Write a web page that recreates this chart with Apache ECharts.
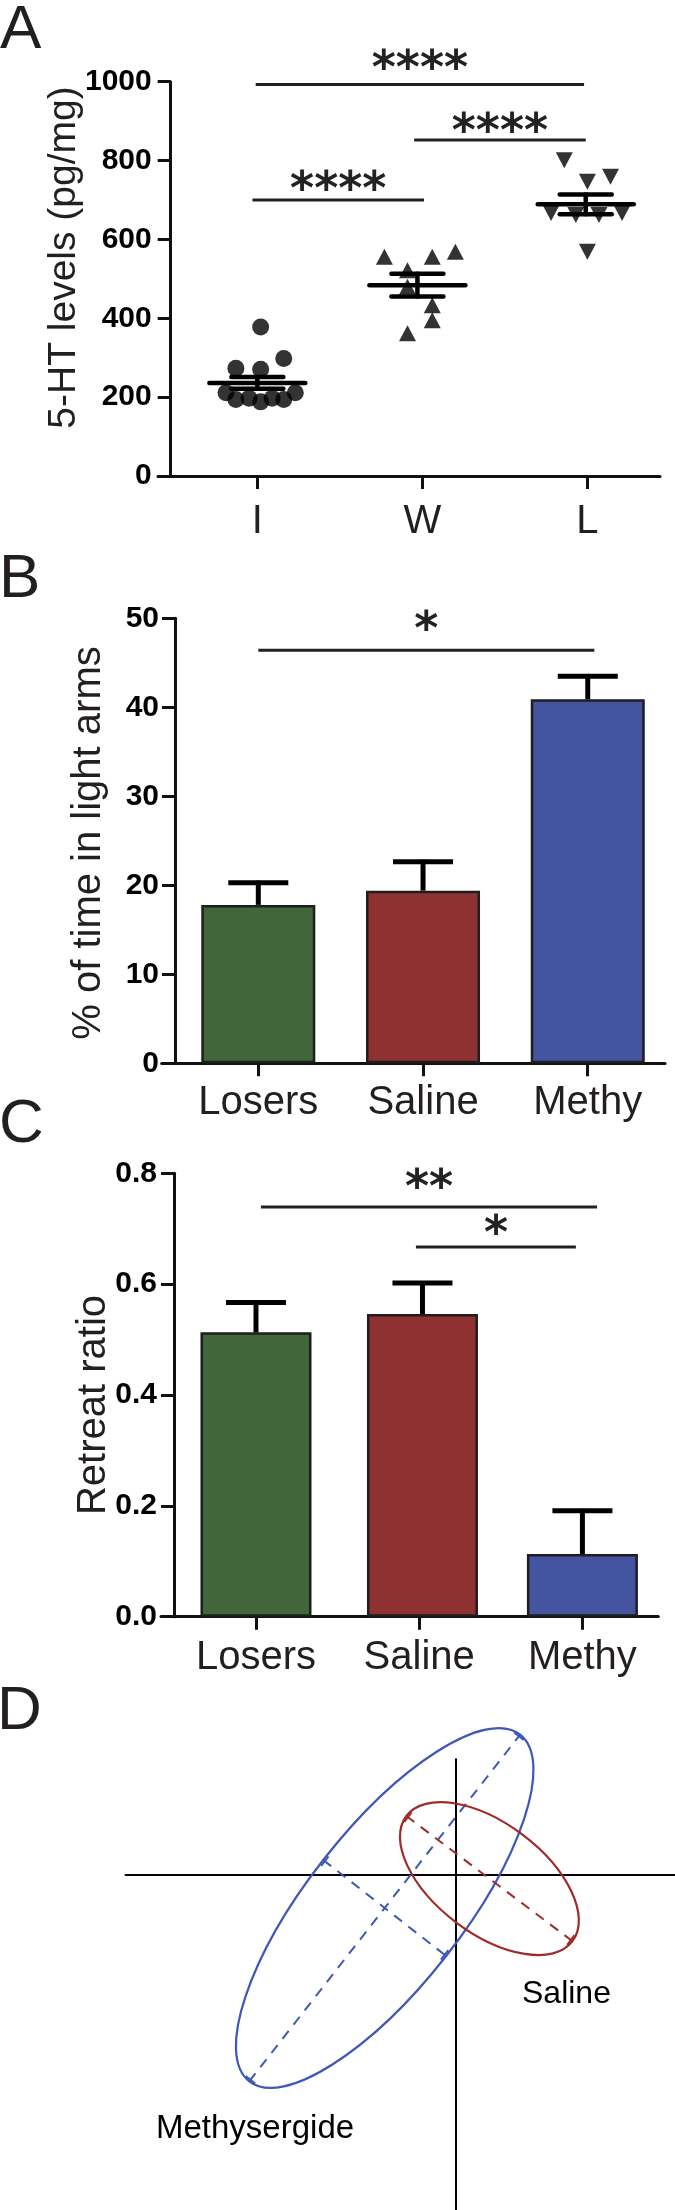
<!DOCTYPE html>
<html><head><meta charset="utf-8">
<script src="https://cdn.jsdelivr.net/npm/echarts@6/dist/echarts.min.js"></script>
<style>html,body{margin:0;padding:0;background:#fff}#c{width:675px;height:2210px}</style>
</head><body><div id="c"></div>
<script>
// ---------- Panel A : 5-HT levels ----------
const catsA = ['I', 'W', 'L'];
const groupI = [[1.02,378],[1.16,298],[0.87,273],[1.02,271],[0.81,211],[0.87,194],[0.95,197],[1.02,188],[1.09,197],[1.16,194],[1.23,211]];
const groupW = [[1.77,556],[2.06,556],[2.20,569],[1.91,522],[1.91,480],[2.06,433],[2.06,395],[1.91,362]];
const groupL = [[2.86,801],[3.00,746],[3.14,759],[2.78,667],[2.93,662],[3.07,662],[3.21,667],[3.00,569]];
const meanXA = [1.0, 1.97, 2.99];
const meansA = [236, 484, 689];
const semsA = [15, 29, 25];
const sigLinesA = [[0.99, 2.98, 993], [1.95, 2.99, 852], [0.97, 2.01, 700]];
const sigTextA = ['****', '****', '****'];

// ---------- Panel B : % time in light arms ----------
const catsB = ['Losers', 'Saline', 'Methy'];
const barXB = [1, 2, 3];
const meansB = [17.8, 19.4, 40.9];
const semsB = [2.5, 3.25, 2.6];
const sigLinesB = [[1.0, 3.04, 46.4]];
const sigTextB = ['*'];

// ---------- Panel C : retreat ratio ----------
const catsC = ['Losers', 'Saline', 'Methy'];
const barXC = [1, 2.02, 3];
const meansC = [0.513, 0.546, 0.113];
const semsC = [0.054, 0.056, 0.078];
const sigLinesC = [[1.03, 3.09, 0.739], [1.98, 2.96, 0.667]];
const sigTextC = ['**', '*'];

// ---------- Panel D : ellipses ----------
const ellipseNames = ['Methysergide', 'Saline'];
const ellipseCenters = [[-7.1, -3.37], [3.37, -0.43]];
const ellipseSemiAxes = [[22.0, 7.8], [10.4, 5.5]];
const ellipseAngles = [52, -37];

const barColors = ['#41663a', '#8f3131', '#4554a0'];
const ellColors = ['#3f57b8', '#a12b2b'];
const ellShowMinor = [true, false];
const AX = '#111';
const TXT = '#231f20';
const SANS = "'Liberation Sans', Arial, Helvetica, sans-serif";
const STAR = "'DejaVu Sans', sans-serif";

const chart = echarts.init(document.getElementById('c'), null, {renderer: 'canvas'});

function xAxisCat(gi, min, max, cats, margin) {
  return {
    type: 'value', gridIndex: gi, min: min, max: max,
    axisLine: {show: true, onZero: false, lineStyle: {color: AX, width: 3}},
    axisTick: {show: true, customValues: [1, 2, 3], length: 13, lineStyle: {color: AX, width: 3}},
    axisLabel: {show: true, customValues: [1, 2, 3], margin: margin,
      formatter: v => cats[Math.round(v) - 1] || '',
      fontFamily: SANS, fontSize: 40, color: TXT},
    splitLine: {show: false}
  };
}
function yAxisVal(gi, max, interval, fmt, offset, margin) {
  return {
    type: 'value', gridIndex: gi, min: 0, max: max, interval: interval, offset: offset,
    axisLine: {show: true, onZero: false, lineStyle: {color: AX, width: 3}},
    axisTick: {show: true, length: 13, lineStyle: {color: AX, width: 3}},
    axisLabel: {show: true, margin: margin, formatter: fmt,
      fontFamily: SANS, fontWeight: 'bold', fontSize: 30, color: '#000'},
    splitLine: {show: false}
  };
}

function sigSeries(xi, lines, texts, glyphOffsets) {
  return {
    type: 'custom', xAxisIndex: xi, yAxisIndex: xi, z: 5,
    data: lines,
    renderItem: (params, api) => {
      const a = api.coord([api.value(0), api.value(2)]);
      const b = api.coord([api.value(1), api.value(2)]);
      return {type: 'group', children: [
        {type: 'line', shape: {x1: a[0], y1: a[1], x2: b[0], y2: b[1]},
          style: {stroke: '#222', lineWidth: 3}},
        {type: 'text', x: (a[0] + b[0]) / 2, y: a[1] - glyphOffsets[params.dataIndex],
          style: {text: texts[params.dataIndex], fill: '#222', align: 'center', verticalAlign: 'middle',
            font: 'bold 46px ' + STAR}}
      ]};
    }
  };
}

function errSeries(xi, xs, means, sems) {
  return {
    type: 'custom', xAxisIndex: xi, yAxisIndex: xi, z: 4,
    data: means.map((m, i) => [xs[i], m, sems[i]]),
    renderItem: (params, api) => {
      const x = api.value(0), m = api.value(1), s = api.value(2);
      const p0 = api.coord([x, m]);
      const p1 = api.coord([x, m + s]);
      const st = {stroke: '#000', lineWidth: 5};
      return {type: 'group', children: [
        {type: 'line', shape: {x1: p0[0], y1: p0[1], x2: p1[0], y2: p1[1] - 2}, style: st},
        {type: 'line', shape: {x1: p1[0] - 30, y1: p1[1], x2: p1[0] + 30, y2: p1[1]}, style: st}
      ]};
    }
  };
}

function barSeries(xi, xs, means, width) {
  return {
    type: 'bar', xAxisIndex: xi, yAxisIndex: xi, barWidth: width, z: 3,
    data: means.map((m, i) => ({value: [xs[i], m], itemStyle: {color: barColors[i]}})),
    itemStyle: {borderColor: '#1e1e1e', borderWidth: 2.5}
  };
}

const option = {
  animation: false,
  backgroundColor: '#fff',
  grid: [
    {left: 158, top: 81.7, width: 502, height: 394.3},
    {left: 161.7, top: 618.3, width: 503.3, height: 445},
    {left: 161, top: 1173.3, width: 497.3, height: 443.4},
    {left: 125.5, top: 1759.3, width: 549.5, height: 450.7}
  ],
  xAxis: [
    xAxisCat(0, 0.398, 3.44, catsA, 26),
    xAxisCat(1, 0.4135, 3.469, catsB, 20),
    xAxisCat(2, 0.418, 3.465, catsC, 21),
    {type: 'value', gridIndex: 3, min: -33.02, max: 21.93,
      axisLine: {show: true, onZero: true, lineStyle: {color: '#000', width: 2}},
      axisTick: {show: false}, axisLabel: {show: false}, splitLine: {show: false}}
  ],
  yAxis: [
    yAxisVal(0, 1000, 200, v => String(v), -12.7, 19),
    yAxisVal(1, 50, 10, v => String(v), -13.3, 16),
    yAxisVal(2, 0.8, 0.2, v => v.toFixed(1), -13, 17),
    {type: 'value', gridIndex: 3, min: -33.57, max: 11.5,
      axisLine: {show: true, onZero: true, lineStyle: {color: '#000', width: 2}},
      axisTick: {show: false}, axisLabel: {show: false}, splitLine: {show: false}}
  ],
  series: [
    {type: 'scatter', xAxisIndex: 0, yAxisIndex: 0, symbol: 'circle', symbolSize: 17,
      itemStyle: {color: '#000'}, data: groupI, z: 3},
    {type: 'scatter', xAxisIndex: 0, yAxisIndex: 0, symbol: 'triangle', symbolSize: [17, 16],
      itemStyle: {color: '#000'}, data: groupW, z: 3},
    {type: 'scatter', xAxisIndex: 0, yAxisIndex: 0, symbol: 'triangle', symbolSize: [17, 16], symbolRotate: 180,
      itemStyle: {color: '#000'}, data: groupL, z: 3},
    {type: 'custom', xAxisIndex: 0, yAxisIndex: 0, z: 4,
      data: meansA.map((m, i) => [meanXA[i], m, semsA[i]]),
      renderItem: (params, api) => {
        const x = api.value(0), m = api.value(1), s = api.value(2);
        const pm = api.coord([x, m]);
        const pu = api.coord([x, m + s]);
        const pl = api.coord([x, m - s]);
        const st = {stroke: '#000', lineWidth: 4.5, lineCap: 'round'};
        return {type: 'group', children: [
          {type: 'line', shape: {x1: pm[0] - 48, y1: pm[1], x2: pm[0] + 48, y2: pm[1]}, style: st},
          {type: 'line', shape: {x1: pu[0] - 26, y1: pu[1], x2: pu[0] + 26, y2: pu[1]}, style: st},
          {type: 'line', shape: {x1: pl[0] - 26, y1: pl[1], x2: pl[0] + 26, y2: pl[1]}, style: st},
          {type: 'line', shape: {x1: pu[0], y1: pu[1], x2: pl[0], y2: pl[1]}, style: st}
        ]};
      }},
    sigSeries(0, sigLinesA, sigTextA, [13, 6, 8]),

    barSeries(1, barXB, meansB, 114),
    errSeries(1, barXB, meansB, semsB),
    sigSeries(1, sigLinesB, sigTextB, [18]),

    barSeries(2, barXC, meansC, 111),
    errSeries(2, barXC, meansC, semsC),
    sigSeries(2, sigLinesC, sigTextC, [17, 11]),

    {type: 'custom', xAxisIndex: 3, yAxisIndex: 3, z: 3,
      data: ellipseCenters.map((c, i) => [c[0], c[1], ellipseSemiAxes[i][0], ellipseSemiAxes[i][1], ellipseAngles[i]]),
      renderItem: (params, api) => {
        const c = api.coord([api.value(0), api.value(1)]);
        const rx = api.size([api.value(2), 0])[0];
        const ry = api.size([0, api.value(3)])[1];
        const rot = api.value(4) * Math.PI / 180;
        const col = ellColors[params.dataIndex];
        const dash = {stroke: col, lineWidth: 2, lineDash: [10, 8], fill: null};
        const solid = {stroke: col, lineWidth: 2, fill: null};
        const kids = [
          {type: 'ellipse', shape: {cx: 0, cy: 0, rx: rx, ry: ry}, style: {stroke: col, lineWidth: 2.2, fill: null}},
          {type: 'line', shape: {x1: -rx, y1: 0, x2: rx, y2: 0}, style: dash},
          {type: 'line', shape: {x1: -rx + 2, y1: -6, x2: -rx + 2, y2: 6}, style: solid},
          {type: 'line', shape: {x1: rx - 2, y1: -6, x2: rx - 2, y2: 6}, style: solid}
        ];
        if (ellShowMinor[params.dataIndex]) {
          kids.push({type: 'line', shape: {x1: 0, y1: -ry, x2: 0, y2: ry}, style: dash});
          kids.push({type: 'line', shape: {x1: -6, y1: -ry + 2, x2: 6, y2: -ry + 2}, style: solid});
          kids.push({type: 'line', shape: {x1: -6, y1: ry - 2, x2: 6, y2: ry - 2}, style: solid});
        }
        return {type: 'group', x: c[0], y: c[1], rotation: rot, children: kids};
      }}
  ],
  graphic: [
    {type: 'text', x: 0, y: 30.5, style: {text: 'A', font: '62px ' + SANS, fill: TXT, align: 'left', verticalAlign: 'middle'}},
    {type: 'text', x: -1, y: 579.5, style: {text: 'B', font: '62px ' + SANS, fill: TXT, align: 'left', verticalAlign: 'middle'}},
    {type: 'text', x: -1, y: 1125, style: {text: 'C', font: '62px ' + SANS, fill: TXT, align: 'left', verticalAlign: 'middle'}},
    {type: 'text', x: -3, y: 1712, style: {text: 'D', font: '62px ' + SANS, fill: TXT, align: 'left', verticalAlign: 'middle'}},
    {type: 'text', x: 64, y: 257.5, rotation: Math.PI / 2,
      style: {text: '5-HT levels (pg/mg)', font: '39px ' + SANS, fill: TXT, align: 'center', verticalAlign: 'middle'}},
    {type: 'text', x: 89, y: 843, rotation: Math.PI / 2,
      style: {text: '% of time in light arms', font: '40px ' + SANS, fill: TXT, align: 'center', verticalAlign: 'middle'}},
    {type: 'text', x: 94, y: 1405, rotation: Math.PI / 2,
      style: {text: 'Retreat ratio', font: '40px ' + SANS, fill: TXT, align: 'center', verticalAlign: 'middle'}},
    {type: 'text', x: 522, y: 1994, style: {text: ellipseNames[1], font: '32px ' + SANS, fill: '#000', align: 'left', verticalAlign: 'middle'}},
    {type: 'text', x: 156, y: 2128.5, style: {text: ellipseNames[0], font: '33px ' + SANS, fill: '#000', align: 'left', verticalAlign: 'middle'}}
  ]
};
chart.setOption(option);
</script>
</body></html>
